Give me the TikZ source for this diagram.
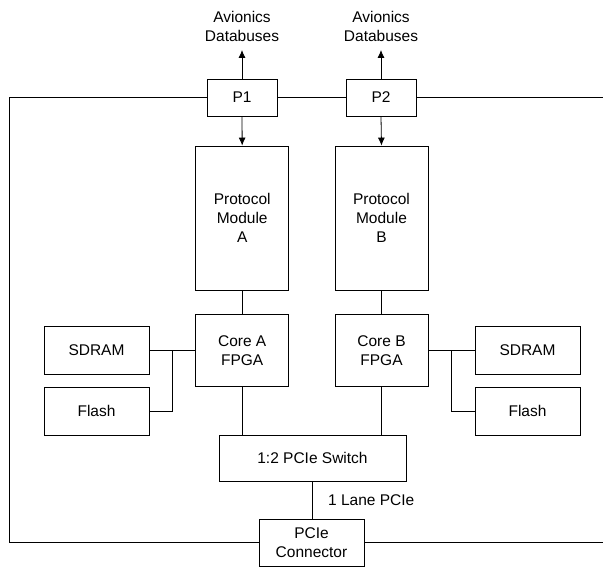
\documentclass[tikz,border=0pt]{standalone}
\usepackage{fontspec}
\setmainfont{Liberation Sans}
\usetikzlibrary{arrows.meta}
\begin{document}
\begin{tikzpicture}[x=1pt,y=-1pt,
  every node/.style={font=\fontsize{15.5}{19}\selectfont, align=center, inner sep=0pt},
  box/.style={draw, line width=0.8pt, minimum width=#1},
  wire/.style={line width=0.8pt},
  arr/.style={line width=0.8pt, -{Latex[length=8pt,width=7pt]}}]
\useasboundingbox (0,0) rectangle (603,567);
% ports
\node[box=70, minimum height=37] (p1) at (242,97.5) {P1};
\node[box=70, minimum height=37] (p2) at (381,97.5) {P2};
% protocol modules
\node[box=93, minimum height=144] (modA) at (242.2,218) {Protocol\\Module\\A};
\node[box=93, minimum height=144] (modB) at (381.5,218) {Protocol\\Module\\B};
% cores
\node[box=93, minimum height=72.5] (coreA) at (242.2,350.5) {Core A\\FPGA};
\node[box=93, minimum height=72.5] (coreB) at (381.5,350.5) {Core B\\FPGA};
% memories
\node[box=105, minimum height=48] (sdramL) at (96.5,350) {SDRAM};
\node[box=105, minimum height=48] (flashL) at (96.5,411) {Flash};
\node[box=105, minimum height=48] (sdramR) at (527.5,350) {SDRAM};
\node[box=105, minimum height=48] (flashR) at (527.5,411) {Flash};
% switch and connector
\node[box=187, minimum height=46] (sw) at (312.5,458) {1:2 PCIe Switch};
\node[box=105, minimum height=47] (conn) at (311.5,542.5) {PCIe\\Connector};
% labels
\node (avA) at (242,26) {Avionics\\Databuses};
\node (avB) at (381,26) {Avionics\\Databuses};
\node[anchor=west] (lane) at (328,500) {1 Lane PCIe};
% coordinates
\coordinate (tipA) at (242,50);
\coordinate (tipB) at (381,50);
\coordinate (tl) at (9,97.5);
\coordinate (bl) at (9,542.5);
\coordinate (tr) at (603,97.5);
\coordinate (br) at (603,542.5);
\coordinate (jL) at (172.7,350);
\coordinate (jR) at (451.7,350);
% arrows
\draw[arr] (p1.north) -- (tipA);
\draw[arr] (p2.north) -- (tipB);
\draw[arr] (p1.south) -- (modA.north);
\draw[arr] (p2.south) -- (modB.north);
% bus loop
\draw[wire] (p1.west) -- (tl) -- (bl) -- (conn.west);
\draw[wire] (p1.east) -- (p2.west);
\draw[wire] (p2.east) -- (tr);
\draw[wire] (conn.east) -- (br);
% vertical links
\draw[wire] (modA.south) -- (coreA.north);
\draw[wire] (modB.south) -- (coreB.north);
\draw[wire] (coreA.south) -- (coreA.south |- sw.north);
\draw[wire] (coreB.south) -- (coreB.south |- sw.north);
\draw[wire] (sw.south) -- (sw.south |- conn.north);
% memory links
\draw[wire] (sdramL.east) -- (coreA.west |- sdramL.east);
\draw[wire] (flashL.east) -| (jL);
\draw[wire] (sdramR.west) -- (coreB.east |- sdramR.west);
\draw[wire] (flashR.west) -| (jR);
\end{tikzpicture}
\end{document}
